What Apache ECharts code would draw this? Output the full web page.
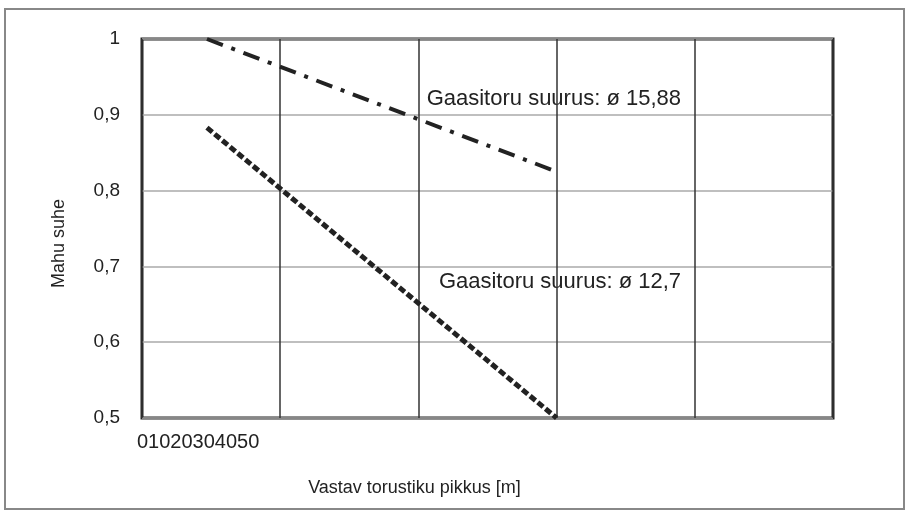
<!DOCTYPE html>
<html>
<head>
<meta charset="utf-8">
<script src="https://cdn.jsdelivr.net/npm/echarts@6/dist/echarts.min.js"></script>
<style>
    html, body { margin: 0; padding: 0; background: #fff; }
    #main { width: 907px; height: 512px; }
</style>
</head>
<body>
<div id="main"></div>
<script>
// pikkus [m]
var lengths = [4.7, 30];
// Gaasitoru suurus: ø 15,88 (kriips-punkt)
var ratio1588 = [1.0, 0.825];
// Gaasitoru suurus: ø 12,7 (punktiir)
var ratio127 = [0.883, 0.5];
var xTickLabels = ['0', '10', '20', '30', '40', '50'];
var yTickLabels = ['0,5', '0,6', '0,7', '0,8', '0,9', '1'];
var seriesNames = ['Gaasitoru suurus: ø 15,88', 'Gaasitoru suurus: ø 12,7'];

var font = 'Liberation Sans, Arial, sans-serif';

var myChart = echarts.init(document.getElementById('main'));

var option = {
    backgroundColor: '#fff',
    animation: false,
    grid: {
        left: 142,
        top: 39,
        right: 74,
        bottom: 94,
        outerBoundsMode: 'none',
        show: true,
        borderColor: '#222',
        borderWidth: 3
    },
    xAxis: {
        type: 'value',
        min: 0,
        max: 50,
        interval: 10,
        name: 'Vastav torustiku pikkus [m]',
        nameLocation: 'middle',
        nameGap: 61,
        nameTextStyle: {
            color: '#222',
            fontSize: 18,
            fontFamily: font,
            padding: [0, 146, 0, 0]
        },
        axisLine: { show: false },
        axisTick: { show: false },
        axisLabel: { show: false },
        splitLine: {
            show: true,
            lineStyle: { color: '#333', width: 1.5 }
        }
    },
    yAxis: {
        type: 'value',
        min: 0.5,
        max: 1,
        interval: 0.1,
        name: 'Mahu suhe',
        nameLocation: 'middle',
        nameGap: 74,
        nameTextStyle: {
            color: '#222',
            fontSize: 18,
            fontFamily: font,
            padding: [0, 30, 0, 0]
        },
        axisLine: { show: false },
        axisTick: { show: false },
        axisLabel: {
            color: '#222',
            fontSize: 19,
            fontFamily: font,
            margin: 22,
            formatter: function (v) {
                return yTickLabels[Math.round((v - 0.5) * 10)];
            }
        },
        splitLine: {
            show: true,
            lineStyle: { color: '#aaa', width: 1.5 }
        }
    },
    graphic: [{
        type: 'rect',
        shape: { x: 5, y: 9, width: 899, height: 500 },
        style: { fill: null, stroke: '#888', lineWidth: 2 },
        z: -1
    }, {
        type: 'text',
        left: 137,
        top: 432,
        style: {
            text: xTickLabels.join(''),
            fill: '#222',
            font: '20px ' + font
        }
    }, {
        type: 'text',
        x: 681,
        y: 99,
        style: {
            text: seriesNames[0],
            fill: '#222',
            font: '22px ' + font,
            align: 'right',
            verticalAlign: 'middle'
        }
    }, {
        type: 'text',
        x: 681,
        y: 282,
        style: {
            text: seriesNames[1],
            fill: '#222',
            font: '22px ' + font,
            align: 'right',
            verticalAlign: 'middle'
        }
    }],
    series: [{
        name: seriesNames[0],
        type: 'line',
        data: lengths.map(function (x, i) { return [x, ratio1588[i]]; }),
        symbol: 'none',
        lineStyle: {
            color: '#222',
            width: 4,
            type: [17, 9, 4, 9]
        }
    }, {
        name: seriesNames[1],
        type: 'line',
        data: lengths.map(function (x, i) { return [x, ratio127[i]]; }),
        symbol: 'none',
        lineStyle: {
            color: '#222',
            width: 5,
            type: [7, 3]
        }
    }]
};
myChart.setOption(option);
</script>
</body>
</html>
